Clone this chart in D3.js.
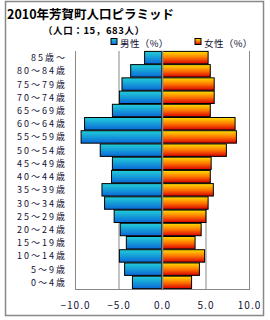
<!DOCTYPE html>
<html>
<head>
<meta charset="utf-8">
<script src="https://cdn.jsdelivr.net/npm/d3@7"></script>
<style>
  body { margin: 0; background: #fff; }
  text { font-family: "Noto Sans CJK JP", "Noto Sans", sans-serif; fill: #111133; }
</style>
</head>
<body>
<div id="chart"></div>
<script>
// age groups, top to bottom
const ages = ["85歳～", "80～84歳", "75～79歳", "70～74歳", "65～69歳", "60～64歳",
  "55～59歳", "50～54歳", "45～49歳", "40～44歳", "35～39歳", "30～34歳",
  "25～29歳", "20～24歳", "15～19歳", "10～14歳", "5～9歳", "0～4歳"];
// percent of total population
const male = [2.0, 3.6, 4.6, 4.9, 5.7, 8.9, 9.3, 7.1, 5.7, 5.8, 6.9, 6.6, 5.5, 4.8, 4.1, 4.9, 4.3, 3.4];
const female = [5.3, 5.55, 6.0, 6.0, 5.55, 8.4, 8.55, 7.4, 5.65, 5.55, 5.9, 5.3, 5.05, 4.5, 3.8, 4.9, 4.3, 3.4];
const xTicks = [-10, -5, 0, 5, 10];

const width = 270, height = 320;
const plot = {left: 75, right: 249, top: 51, bottom: 289};

const svg = d3.select("#chart").append("svg")
  .attr("width", width)
  .attr("height", height);

// gradients
const defs = svg.append("defs");
const gm = defs.append("linearGradient").attr("id", "gm")
  .attr("x1", 0).attr("y1", 0).attr("x2", 0).attr("y2", 1);
gm.append("stop").attr("offset", "0%").attr("stop-color", "#22cfd8");
gm.append("stop").attr("offset", "100%").attr("stop-color", "#0a68d8");
const gf = defs.append("linearGradient").attr("id", "gf")
  .attr("x1", 0).attr("y1", 0).attr("x2", 0).attr("y2", 1);
gf.append("stop").attr("offset", "0%").attr("stop-color", "#ffe000");
gf.append("stop").attr("offset", "50%").attr("stop-color", "#ff7800");
gf.append("stop").attr("offset", "100%").attr("stop-color", "#d80000");

// outer frame
svg.append("rect")
  .attr("x", 5.5).attr("y", 1.5)
  .attr("width", 258).attr("height", 314)
  .attr("fill", "none").attr("stroke", "#888").attr("stroke-width", 1.5);

const x = d3.scaleLinear().domain([-10, 10]).range([plot.left, plot.right]);
const y = d3.scaleBand().domain(ages).range([plot.top, plot.bottom]).paddingInner(0.06).paddingOuter(0.03);

// title
svg.append("text")
  .attr("x", 7).attr("y", 18.5)
  .style("font-size", "12.5px").style("font-weight", "bold").style("fill", "#000")
  .text("2010年芳賀町人口ピラミッド");
svg.append("text")
  .attr("x", 43).attr("y", 33.5)
  .style("font-size", "9.5px").style("font-weight", "bold").style("fill", "#000")
  .style("letter-spacing", "0.6px")
  .text("（人口：15，683人）");

// legend
const legend = [{label: "男性（%）", fill: "url(#gm)", x: 111}, {label: "女性（%）", fill: "url(#gf)", x: 195}];
const lg = svg.selectAll(".lg").data(legend).join("g").attr("class", "lg")
  .attr("transform", d => `translate(${d.x},38.5)`);
lg.append("rect").attr("width", 6).attr("height", 6)
  .attr("fill", d => d.fill).attr("stroke", "#000").attr("stroke-width", 1);
lg.append("text").attr("x", 9).attr("y", 8.5)
  .style("font-size", "9.5px").style("letter-spacing", "0.4px").text(d => d.label);

// grid + frame of plot
svg.selectAll(".grid").data(xTicks).join("line").attr("class", "grid")
  .attr("x1", d => x(d) + 0.5).attr("x2", d => x(d) + 0.5)
  .attr("y1", plot.top).attr("y2", plot.bottom)
  .attr("stroke", "#888").attr("stroke-width", 1);
svg.append("line")
  .attr("x1", plot.left).attr("x2", plot.right + 1)
  .attr("y1", plot.bottom + 0.5).attr("y2", plot.bottom + 0.5)
  .attr("stroke", "#888");

// bars
svg.selectAll(".m").data(male).join("rect").attr("class", "m")
  .attr("x", d => x(-d))
  .attr("y", (d, i) => y(ages[i]))
  .attr("width", d => x(0) - x(-d))
  .attr("height", y.bandwidth())
  .attr("fill", "url(#gm)").attr("stroke", "#000").attr("stroke-width", 1);
svg.selectAll(".f").data(female).join("rect").attr("class", "f")
  .attr("x", x(0))
  .attr("y", (d, i) => y(ages[i]))
  .attr("width", d => x(d) - x(0))
  .attr("height", y.bandwidth())
  .attr("fill", "url(#gf)").attr("stroke", "#000").attr("stroke-width", 1);

// centre axis line
svg.append("line")
  .attr("x1", x(0) + 0.5).attr("x2", x(0) + 0.5)
  .attr("y1", plot.top).attr("y2", plot.bottom)
  .attr("stroke", "#7d8a99").attr("stroke-width", 1.5);

// y labels
svg.selectAll(".yl").data(ages).join("text").attr("class", "yl")
  .attr("x", 67).attr("y", d => y(d) + y.bandwidth() / 2 + 3.5)
  .attr("text-anchor", "end")
  .style("font-size", "9px").style("letter-spacing", "2px")
  .text(d => d);

// x axis labels
const xAxis = d3.axisBottom(x).tickValues(xTicks).tickSize(0).tickFormat(d3.format(".1f"));
const ax = svg.append("g").attr("transform", `translate(0,${plot.bottom + 10})`).call(xAxis);
ax.select(".domain").remove();
ax.selectAll("text")
  .style("font-size", "10px").style("letter-spacing", "1px")
  .style("font-family", "'Noto Sans CJK JP', sans-serif").attr("fill", "#111133");
</script>
</body>
</html>
